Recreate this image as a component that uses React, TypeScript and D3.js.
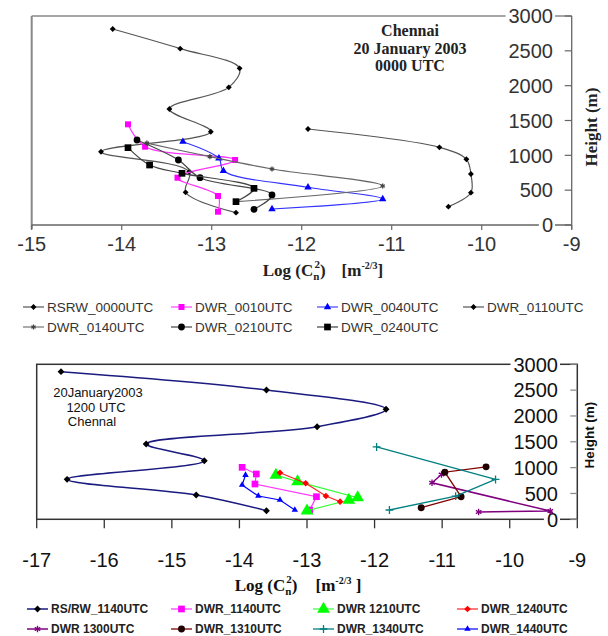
import React from 'react';
import * as d3 from 'd3';

// ---- top panel: Chennai, 20 January 2003, 0000 UTC ----
const topTicksX = [-15, -14, -13, -12, -11, -10, -9];
const topTicksY = [0, 500, 1000, 1500, 2000, 2500, 3000];

const rsrw0000Log = [-14.1, -13.35, -12.69, -12.81, -13.47, -13.01, -14.23, -13.25, -13.29, -12.73];
const rsrw0000Hgt = [2813, 2531, 2249, 1976, 1665, 1339, 1052, 765, 469, 177];
const dwr0010Log = [-13.93, -13.74, -12.74, -13.38, -12.93, -12.93];
const dwr0010Hgt = [1445, 1124, 933, 679, 416, 191];
const dwr0040Log = [-13.32, -12.92, -12.87, -11.93, -11.1, -12.33];
const dwr0040Hgt = [1196, 957, 779, 541, 373, 230];
const dwr0110Log = [-11.93, -10.47, -10.17, -10.12, -10.12, -10.37];
const dwr0110Hgt = [1378, 1115, 943, 732, 464, 263];
const dwr0140Log = [-13.72, -13.02, -12.33, -11.1, -12.73];
const dwr0140Hgt = [1175, 981, 804, 560, 335];
const dwr0210Log = [-13.83, -13.37, -13.13, -12.33, -12.53];
const dwr0210Hgt = [1220, 933, 679, 431, 225];
const dwr0240Log = [-13.93, -13.69, -13.33, -12.53, -12.73];
const dwr0240Hgt = [1110, 861, 742, 526, 335];

// ---- bottom panel: 1200 UTC ----
const botTicksX = [-17, -16, -15, -14, -13, -12, -11, -10, -9];
const botTicksY = [0, 500, 1000, 1500, 2000, 2500, 3000];

const rsrw1140Log = [-16.64, -13.6, -11.83, -12.85, -15.38, -14.52, -16.55, -14.64, -13.6];
const rsrw1140Hgt = [2857, 2503, 2129, 1792, 1457, 1134, 774, 470, 166];
const dwr1140Log = [-13.96, -13.75, -13.77, -12.86, -12.96];
const dwr1140Hgt = [1006, 877, 683, 437, 180];
const dwr1210Log = [-13.46, -13.14, -12.25, -12.38, -13.0];
const dwr1210Hgt = [857, 728, 418, 374, 166];
const dwr1240Log = [-13.4, -13.02, -12.72, -12.51];
const dwr1240Hgt = [902, 697, 451, 341];
const dwr1300Log = [-11.01, -11.15, -9.4, -10.46];
const dwr1300Hgt = [867, 707, 161, 141];
const dwr1310Log = [-10.35, -10.96, -10.72, -11.31];
const dwr1310Hgt = [1015, 912, 437, 225];
const dwr1340Log = [-11.97, -10.21, -10.8, -11.78];
const dwr1340Hgt = [1400, 771, 450, 180];
const dwr1440Log = [-13.91, -13.96, -13.72, -13.4, -13.18];
const dwr1440Hgt = [857, 664, 451, 374, 180];

const SANS = "Arial, 'Liberation Sans', sans-serif";
const SERIF = "'Times New Roman', 'Liberation Serif', serif";

type Series = {
  name: string; log: number[]; hgt: number[];
  line: string; lineW: number; mark: string; size: number; fill: string; smooth: boolean;
};

const topSeries: Series[] = [
  { name: 'RSRW_0000UTC', log: rsrw0000Log, hgt: rsrw0000Hgt, line: '#555', lineW: 1.2, mark: 'diamond', size: 22, fill: '#000', smooth: true },
  { name: 'DWR_0010UTC', log: dwr0010Log, hgt: dwr0010Hgt, line: '#ff33ff', lineW: 1.1, mark: 'square', size: 36, fill: '#ff00ff', smooth: true },
  { name: 'DWR_0040UTC', log: dwr0040Log, hgt: dwr0040Hgt, line: '#3333ff', lineW: 1.1, mark: 'triangle', size: 24, fill: '#0000ff', smooth: true },
  { name: 'DWR_0110UTC', log: dwr0110Log, hgt: dwr0110Hgt, line: '#555', lineW: 1.2, mark: 'diamond', size: 22, fill: '#000', smooth: true },
  { name: 'DWR_0140UTC', log: dwr0140Log, hgt: dwr0140Hgt, line: '#666', lineW: 1.1, mark: 'asterisk', size: 18, fill: '#444', smooth: true },
  { name: 'DWR_0210UTC', log: dwr0210Log, hgt: dwr0210Hgt, line: '#444', lineW: 1.2, mark: 'circle', size: 36, fill: '#000', smooth: true },
  { name: 'DWR_0240UTC', log: dwr0240Log, hgt: dwr0240Hgt, line: '#444', lineW: 1.2, mark: 'square', size: 45, fill: '#000', smooth: true },
];

const botSeries: Series[] = [
  { name: 'RS/RW_1140UTC', log: rsrw1140Log, hgt: rsrw1140Hgt, line: '#1a1a80', lineW: 1.5, mark: 'diamond', size: 30, fill: '#000', smooth: true },
  { name: 'DWR_1140UTC', log: dwr1140Log, hgt: dwr1140Hgt, line: '#ff33ff', lineW: 1.2, mark: 'square', size: 45, fill: '#ff00ff', smooth: false },
  { name: 'DWR 1210UTC', log: dwr1210Log, hgt: dwr1210Hgt, line: '#33ff33', lineW: 1.2, mark: 'triangle', size: 70, fill: '#00ff00', smooth: false },
  { name: 'DWR_1240UTC', log: dwr1240Log, hgt: dwr1240Hgt, line: '#ff2222', lineW: 1.2, mark: 'diamond', size: 28, fill: '#ff0000', smooth: false },
  { name: 'DWR 1300UTC', log: dwr1300Log, hgt: dwr1300Hgt, line: '#800080', lineW: 1.5, mark: 'asterisk', size: 28, fill: '#800080', smooth: false },
  { name: 'DWR_1310UTC', log: dwr1310Log, hgt: dwr1310Hgt, line: '#800000', lineW: 1.3, mark: 'circle', size: 38, fill: '#200000', smooth: false },
  { name: 'DWR_1340UTC', log: dwr1340Log, hgt: dwr1340Hgt, line: '#008080', lineW: 1.3, mark: 'plus', size: 22, fill: '#008080', smooth: false },
  { name: 'DWR_1440UTC', log: dwr1440Log, hgt: dwr1440Hgt, line: '#0000ff', lineW: 1.2, mark: 'triangle', size: 18, fill: '#0000ff', smooth: false },
];

const strokeMarks = new Set(['asterisk', 'plus', 'times']);

function symbolPath(kind: string, size: number): string {
  const m: any = d3;
  const types: Record<string, any> = {
    diamond: m.symbolDiamond2 || d3.symbolDiamond,
    square: d3.symbolSquare,
    triangle: d3.symbolTriangle,
    circle: d3.symbolCircle,
    asterisk: m.symbolAsterisk || d3.symbolCross,
    plus: m.symbolPlus || d3.symbolCross,
    times: m.symbolTimes || d3.symbolCross,
  };
  return d3.symbol().type(types[kind]).size(size)() as string;
}

function Marker({ s, x, y }: { s: Series; x: number; y: number }) {
  const d = symbolPath(s.mark, s.size);
  if (strokeMarks.has(s.mark)) {
    return <path d={d} transform={`translate(${x},${y})`} fill="none" stroke={s.fill} strokeWidth={1.3} />;
  }
  return <path d={d} transform={`translate(${x},${y})`} fill={s.fill} />;
}

function SeriesLayer({ series, x, y }: { series: Series[]; x: any; y: any }) {
  return (
    <g>
      {series.map((s) => {
        const pts: [number, number][] = s.log.map((v, i) => [v, s.hgt[i]]);
        const gen = d3.line<[number, number]>()
          .x((d) => x(d[0]))
          .y((d) => y(d[1]))
          .curve(s.smooth ? d3.curveCatmullRom.alpha(0.5) : d3.curveLinear);
        return (
          <g key={s.name}>
            <path d={gen(pts) || ''} fill="none" stroke={s.line} strokeWidth={s.lineW} />
            {pts.map((p, i) => <Marker key={i} s={s} x={x(p[0])} y={y(p[1])} />)}
          </g>
        );
      })}
    </g>
  );
}

function Legend({ series, cols, rows, fontSize, weight, color }:
  { series: Series[]; cols: number[]; rows: number[]; fontSize: number; weight: string; color: string }) {
  return (
    <g>
      {series.map((s, i) => {
        const x0 = cols[i % 4];
        const y0 = rows[Math.floor(i / 4)];
        return (
          <g key={s.name}>
            <line x1={x0} x2={x0 + 21} y1={y0} y2={y0} stroke={s.line} strokeWidth={s.lineW} />
            <Marker s={s} x={x0 + 10.5} y={y0} />
            <text x={x0 + 24} y={y0 + fontSize * 0.36} fontFamily={SANS} fontSize={fontSize}
              fontWeight={weight} fill={color}>{s.name}</text>
          </g>
        );
      })}
    </g>
  );
}

export default function App() {
  const tx = d3.scaleLinear().domain([-15, -9]).range([31.7, 571.7]);
  const ty = d3.scaleLinear().domain([0, 3000]).range([225, 16]);
  const bx = d3.scaleLinear().domain([-17, -9]).range([36.7, 577.3]);
  const by = d3.scaleLinear().domain([0, 3000]).range([519.3, 364.3]);

  const tickFs = 20;
  const labelW = (v: number) => String(v).length * 0.556 * tickFs + 3;

  return (
    <svg width={608} height={636} style={{ position: 'absolute', left: 0, top: 0, background: '#fff' }}>
      {/* ===== top panel ===== */}
      <g>
        <line x1={tx(-15)} x2={tx(-9)} y1={ty(3000)} y2={ty(3000)} stroke="#888" strokeWidth={1.6} />
        <line x1={tx(-15)} x2={tx(-15)} y1={ty(3000)} y2={ty(0) + 4} stroke="#888" strokeWidth={2} />
        <line x1={tx(-15)} x2={tx(-9)} y1={ty(0)} y2={ty(0)} stroke="#666" strokeWidth={1.3} />
        <line x1={tx(-9)} x2={tx(-9)} y1={ty(3000)} y2={ty(0) + 4} stroke="#666" strokeWidth={1.3} />
        {topTicksX.map((v) => (
          <g key={v}>
            <line x1={tx(v)} x2={tx(v)} y1={ty(0)} y2={ty(0) + 5} stroke="#666" strokeWidth={1.2} />
            <text x={tx(v)} y={251} textAnchor="middle" fontFamily={SANS} fontSize={tickFs} fill="#333">{v}</text>
          </g>
        ))}
        {topTicksY.map((v) => (
          <g key={v}>
            <line x1={tx(-9) - 7} x2={tx(-9)} y1={ty(v)} y2={ty(v)} stroke="#666" strokeWidth={1.2} />
            {(v === 0 || v === 3000) && (
              <rect x={553 - labelW(v)} y={ty(v) - 3} width={labelW(v) + 2} height={6} fill="#fff" />
            )}
            <text x={553} y={ty(v)} dy="0.36em" textAnchor="end" fontFamily={SANS} fontSize={tickFs} fill="#333">{v}</text>
          </g>
        ))}
        <SeriesLayer series={topSeries} x={tx} y={ty} />
        <g fontFamily={SERIF} fontWeight="bold" fontSize={16} fill="#222" textAnchor="middle">
          <text x={410} y={36}>Chennai</text>
          <text x={410} y={53.5}>20 January 2003</text>
          <text x={410} y={71}>0000 UTC</text>
        </g>
        <text transform="translate(597,127) rotate(-90)" textAnchor="middle" fontFamily={SERIF}
          fontWeight="bold" fontSize={17} fill="#222">Height (m)</text>
        <text x={323} y={276} textAnchor="middle" fontFamily={SERIF} fontWeight="bold" fontSize={17} fill="#222">
          Log (C<tspan fontSize={11} dy={4}>n</tspan><tspan fontSize={11} dx={-5} dy={-12}>2</tspan>
          <tspan dy={8}>)</tspan><tspan dx={16}>[m</tspan><tspan fontSize={10} dy={-7}>-2/3</tspan>
          <tspan dy={7}>]</tspan>
        </text>
        <Legend series={topSeries} cols={[23, 171, 317, 463]} rows={[307, 327]} fontSize={13.5} weight="normal" color="#333" />
      </g>

      {/* ===== bottom panel ===== */}
      <g>
        <rect x={bx(-17)} y={by(3000)} width={bx(-9) - bx(-17)} height={by(0) - by(3000)} fill="none" stroke="#333" strokeWidth={1.5} />
        {botTicksX.map((v) => (
          <g key={v}>
            <line x1={bx(v)} x2={bx(v)} y1={by(0)} y2={by(0) + 9} stroke="#333" strokeWidth={1.3} />
            <text x={bx(v)} y={567} textAnchor="middle" fontFamily={SANS} fontSize={tickFs} fill="#111">{v}</text>
          </g>
        ))}
        {botTicksY.map((v) => (
          <g key={v}>
            <line x1={bx(-9) - 7} x2={bx(-9)} y1={by(v)} y2={by(v)} stroke="#888" strokeWidth={1.2} />
            {(v === 0 || v === 3000) && (
              <rect x={558 - labelW(v)} y={by(v) - 3} width={labelW(v) + 2} height={6} fill="#fff" />
            )}
            <text x={558} y={by(v)} dy="0.36em" textAnchor="end" fontFamily={SANS} fontSize={tickFs} fill="#111">{v}</text>
          </g>
        ))}
        <SeriesLayer series={botSeries} x={bx} y={by} />
        <g fontFamily={SANS} fontSize={13} fill="#111" textAnchor="middle">
          <text x={98} y={397}>20January2003</text>
          <text x={96} y={411.5}>1200 UTC</text>
          <text x={92} y={426}>Chennal</text>
        </g>
        <text transform="translate(594,435) rotate(-90)" textAnchor="middle" fontFamily={SANS}
          fontWeight="bold" fontSize={13.5} fill="#111">Height (m)</text>
        <text x={298} y={591} textAnchor="middle" fontFamily={SERIF} fontWeight="bold" fontSize={17} fill="#111">
          Log (C<tspan fontSize={11} dy={4}>n</tspan><tspan fontSize={11} dx={-5} dy={-12}>2</tspan>
          <tspan dy={8}>)</tspan><tspan dx={18}>[m</tspan><tspan fontSize={10} dy={-7}>-2/3</tspan>
          <tspan dy={7}> ]</tspan>
        </text>
        <Legend series={botSeries} cols={[27, 171, 313, 457]} rows={[609, 629]} fontSize={12} weight="bold" color="#222" />
      </g>
    </svg>
  );
}
